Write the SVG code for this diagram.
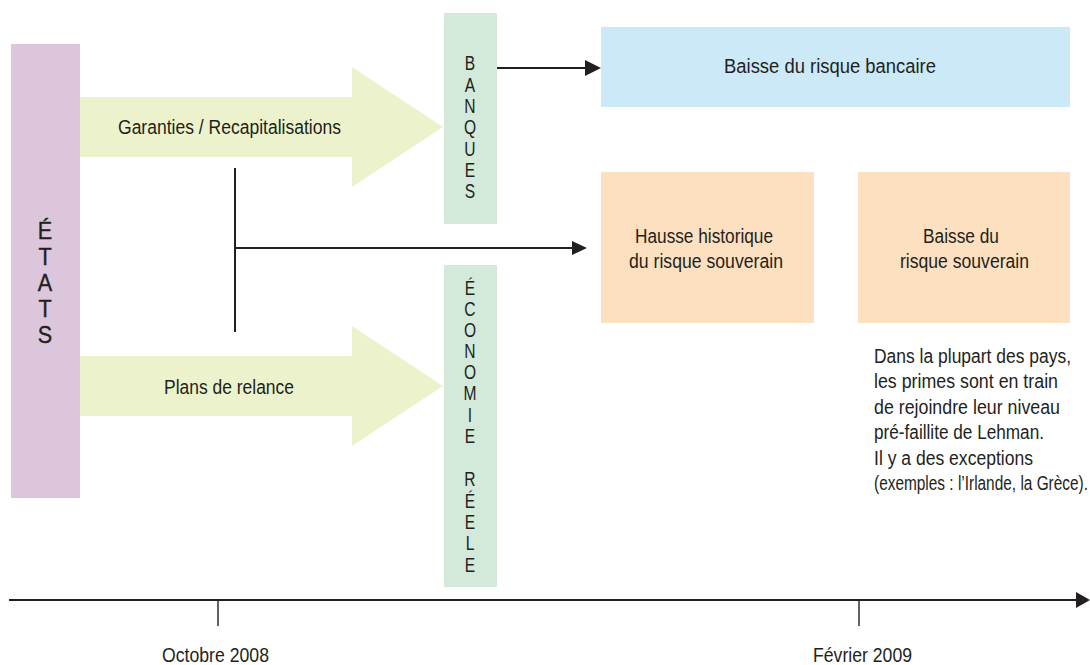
<svg xmlns="http://www.w3.org/2000/svg" width="1090" height="665" viewBox="0 0 1090 665">
<style>
text{font-family:"Liberation Sans",Arial,sans-serif;fill:#231f20;}
.lbl{font-size:20px;}
.ltr{font-size:19.5px;text-anchor:middle;}
.big{font-size:24px;text-anchor:middle;stroke:#231f20;stroke-width:0.4;}
.ln{stroke:#231f20;stroke-width:2;fill:none;}
.tick{stroke:#231f20;stroke-width:1.4;}
.head{fill:#231f20;}
.etat{fill:#dcc6dc;}
.flow{fill:#ecf3cc;}
.sect{fill:#d3eadb;}
.blue{fill:#cce9f8;}
.orange{fill:#fde0bf;}
</style>
<rect width="1090" height="665" fill="#ffffff"/>

<g id="etats">
<rect class="etat" x="11" y="44" width="69" height="454"/>
<g transform="translate(45,0) scale(0.9,1)">
<text class="big" x="0" y="239">É</text>
<text class="big" x="0" y="265">T</text>
<text class="big" x="0" y="291">A</text>
<text class="big" x="0" y="317">T</text>
<text class="big" x="0" y="343">S</text>
</g>
</g>

<g id="arrow-garanties">
<polygon class="flow" points="80,97 352,97 352,67 443,127 352,187 352,157 80,157"/>
<text class="lbl" x="118" y="134" textLength="223" lengthAdjust="spacingAndGlyphs">Garanties / Recapitalisations</text>
</g>

<g id="arrow-relance">
<polygon class="flow" points="80,356 352,356 352,326 443,386 352,446 352,416 80,416"/>
<text class="lbl" x="164" y="394" textLength="130" lengthAdjust="spacingAndGlyphs">Plans de relance</text>
</g>

<g id="banques">
<rect class="sect" x="444" y="13" width="53" height="211"/>
<g transform="translate(470,0) scale(0.8,1)">
<text class="ltr" x="0" y="70">B</text>
<text class="ltr" x="0" y="92">A</text>
<text class="ltr" x="0" y="113">N</text>
<text class="ltr" x="0" y="134">Q</text>
<text class="ltr" x="0" y="156">U</text>
<text class="ltr" x="0" y="177">E</text>
<text class="ltr" x="0" y="198">S</text>
</g>
</g>

<g id="economie">
<rect class="sect" x="444" y="265" width="53" height="322"/>
<g transform="translate(470,0) scale(0.8,1)">
<text class="ltr" x="0" y="295">É</text>
<text class="ltr" x="0" y="316">C</text>
<text class="ltr" x="0" y="337">O</text>
<text class="ltr" x="0" y="358">N</text>
<text class="ltr" x="0" y="379">O</text>
<text class="ltr" x="0" y="400">M</text>
<text class="ltr" x="0" y="422">I</text>
<text class="ltr" x="0" y="443">E</text>
<text class="ltr" x="0" y="486">R</text>
<text class="ltr" x="0" y="508">É</text>
<text class="ltr" x="0" y="529">E</text>
<text class="ltr" x="0" y="550">L</text>
<text class="ltr" x="0" y="572">E</text>
</g>
</g>

<g id="risque-bancaire">
<rect class="blue" x="601" y="27" width="469" height="80"/>
<text class="lbl" x="724" y="73" textLength="212" lengthAdjust="spacingAndGlyphs">Baisse du risque bancaire</text>
</g>

<g id="hausse-souverain">
<rect class="orange" x="601" y="172" width="213" height="151"/>
<text class="lbl" x="635" y="243" textLength="138" lengthAdjust="spacingAndGlyphs">Hausse historique</text>
<text class="lbl" x="629" y="268" textLength="154" lengthAdjust="spacingAndGlyphs">du risque souverain</text>
</g>

<g id="baisse-souverain">
<rect class="orange" x="858" y="172" width="212" height="151"/>
<text class="lbl" x="923" y="243" textLength="76" lengthAdjust="spacingAndGlyphs">Baisse du</text>
<text class="lbl" x="900" y="268" textLength="129" lengthAdjust="spacingAndGlyphs">risque souverain</text>
</g>

<g id="note">
<text class="lbl" x="874" y="363" textLength="197" lengthAdjust="spacingAndGlyphs">Dans la plupart des pays,</text>
<text class="lbl" x="874" y="388" textLength="184" lengthAdjust="spacingAndGlyphs">les primes sont en train</text>
<text class="lbl" x="874" y="414" textLength="186" lengthAdjust="spacingAndGlyphs">de rejoindre leur niveau</text>
<text class="lbl" x="874" y="439" textLength="170" lengthAdjust="spacingAndGlyphs">pré-faillite de Lehman.</text>
<text class="lbl" x="874" y="465" textLength="159" lengthAdjust="spacingAndGlyphs">Il y a des exceptions</text>
<text class="lbl" x="874" y="490" textLength="214" lengthAdjust="spacingAndGlyphs">(exemples : l’Irlande, la Grèce).</text>
</g>

<g id="timeline">
<line class="ln" x1="9" y1="600" x2="1077" y2="600"/>
<polygon class="head" points="1076,592 1090,600 1076,608"/>
<line class="tick" x1="218" y1="600" x2="218" y2="626"/>
<line class="tick" x1="859" y1="600" x2="859" y2="626"/>
<text class="lbl" x="162" y="662" textLength="107" lengthAdjust="spacingAndGlyphs">Octobre 2008</text>
<text class="lbl" x="813" y="662" textLength="99" lengthAdjust="spacingAndGlyphs">Février 2009</text>
</g>

<g id="connectors">
<line class="ln" x1="497" y1="68" x2="586" y2="68"/>
<polygon class="head" points="585,60 601,68 585,76"/>
<line class="ln" x1="235" y1="168" x2="235" y2="332"/>
<line class="ln" x1="235" y1="248" x2="573" y2="248"/>
<polygon class="head" points="572,241 587,248 572,255"/>
</g>
</svg>
